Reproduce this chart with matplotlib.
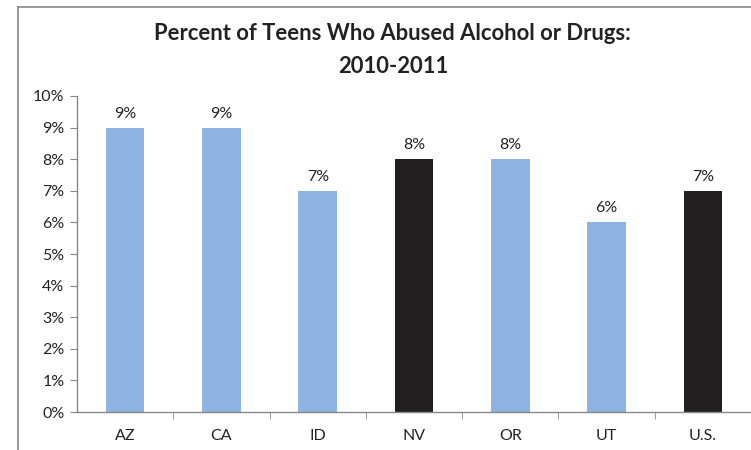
import matplotlib
matplotlib.use("Agg")
import matplotlib.pyplot as plt
from matplotlib.lines import Line2D
from matplotlib.ticker import FuncFormatter, FixedLocator

# data
states = ["AZ", "CA", "ID", "NV", "OR", "UT", "U.S."]
percent = [9, 9, 7, 8, 8, 6, 7]
highlight = [False, False, False, True, False, False, True]

blue = "#8EB4E3"
dark = "#231F20"
axis_gray = "#888888"

plt.rcParams["font.family"] = ["Lato", "DejaVu Sans"]

fig = plt.figure(figsize=(7.51, 4.5), dpi=100)
ax = fig.add_axes([0.1025, 0.0844, 0.8975, 0.7023])

x = list(range(len(states)))
colors = [dark if h else blue for h in highlight]
bars = ax.bar(x, percent, width=0.4, color=colors, zorder=2)

for xi, v in zip(x, percent):
    ax.annotate(f"{v}%", (xi, v), xytext=(0, 5), textcoords="offset points",
                ha="center", va="bottom", fontsize=11.5, color="#222222")

ax.set_xlim(-0.5, len(states) - 0.5)
ax.set_ylim(0, 10)
ax.set_yticks(range(0, 11))
ax.yaxis.set_major_formatter(FuncFormatter(lambda v, _: f"{int(v)}%"))
ax.set_xticks(x)
ax.set_xticklabels(states)
ax.xaxis.set_minor_locator(FixedLocator([i + 0.5 for i in x[:-1]]))

ax.tick_params(axis="y", length=5, color=axis_gray, labelsize=11.5,
               labelcolor="#222222", pad=4)
ax.tick_params(axis="x", which="major", length=0, labelsize=11.5,
               labelcolor="#222222", pad=12)
ax.tick_params(axis="x", which="minor", length=5, color=axis_gray)

for side in ["top", "right"]:
    ax.spines[side].set_visible(False)
for side in ["left", "bottom"]:
    ax.spines[side].set_color(axis_gray)
    ax.spines[side].set_linewidth(1)

# chart frame (left and top edges visible in the crop)
fig.add_artist(Line2D([0.024, 0.024], [0, 0.984], color=axis_gray, lw=1.2,
                      transform=fig.transFigure))
fig.add_artist(Line2D([0.024, 1.0], [0.984, 0.984], color=axis_gray, lw=1.2,
                      transform=fig.transFigure))

fig.text(0.523, 0.925, "Percent of Teens Who Abused Alcohol or Drugs:",
         ha="center", va="center", fontsize=15.8, fontweight="bold",
         color="#222222")
fig.text(0.523, 0.853, "2010-2011", ha="center", va="center", fontsize=15.8,
         fontweight="bold", color="#222222")

fig.savefig("out.png", dpi=100)
